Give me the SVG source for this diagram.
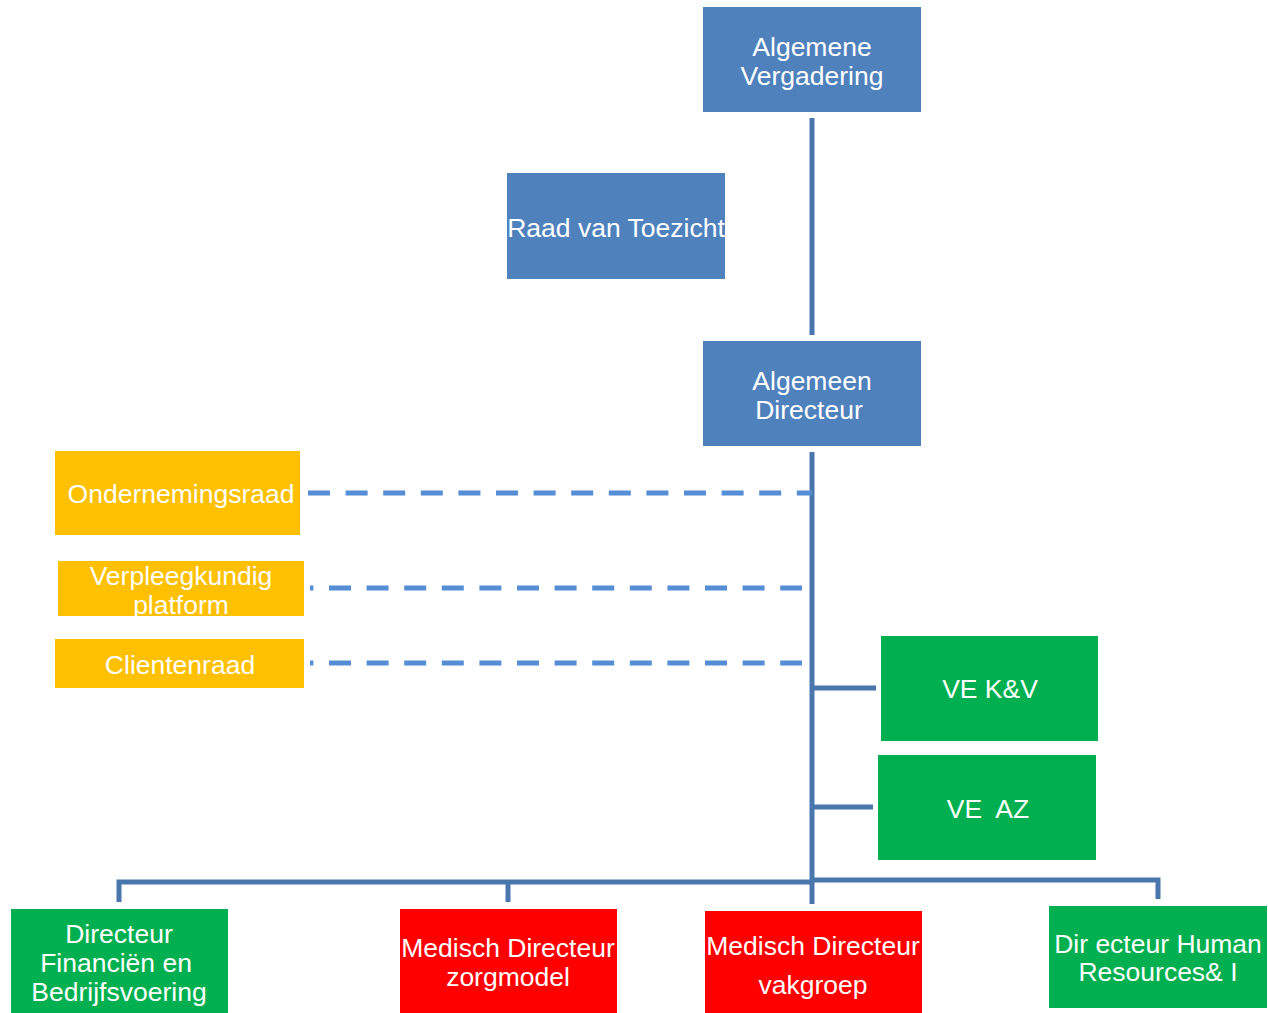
<svg xmlns="http://www.w3.org/2000/svg" width="1268" height="1013" viewBox="0 0 1268 1013">
<style>
text{font-family:"Liberation Sans",Arial,sans-serif;font-size:26.5px;fill:#fff;text-anchor:middle}
.blue{fill:#4F81BD}
.yel{fill:#FFC000}
.grn{fill:#00B050}
.red{fill:#FF0000}
.ln{stroke:#4A76AE;stroke-width:5;fill:none}
.dash{stroke:#558ED5;stroke-width:5;fill:none;stroke-dasharray:22 15.6}
</style>
<rect width="1268" height="1013" fill="#fff"/>
<g id="connectors">
<line class="ln" x1="812" y1="118" x2="812" y2="335"/>
<line class="ln" x1="812" y1="452" x2="812" y2="904"/>
<line class="dash" x1="308" y1="493" x2="812" y2="493"/>
<line class="dash" x1="310" y1="588" x2="802" y2="588" stroke-dashoffset="18.6"/>
<line class="dash" x1="310" y1="663" x2="802" y2="663" stroke-dashoffset="18.6"/>
<line class="ln" x1="812" y1="688" x2="876" y2="688"/>
<line class="ln" x1="812" y1="807" x2="873" y2="807"/>
<polyline class="ln" points="119,902 119,882 812,882"/>
<line class="ln" x1="508" y1="882" x2="508" y2="902"/>
<polyline class="ln" points="812,880 1158,880 1158,899"/>
</g>
<g id="n-av"><rect class="blue" x="703" y="7" width="218" height="105"/><text x="812" y="56">Algemene</text><text x="812" y="85">Vergadering</text></g>
<g id="n-rvt"><rect class="blue" x="507" y="173" width="218" height="106"/><text x="616" y="237">Raad van Toezicht</text></g>
<g id="n-ad"><rect class="blue" x="703" y="341" width="218" height="105"/><text x="812" y="390">Algemeen</text><text x="809" y="419">Directeur</text></g>
<g id="n-or"><rect class="yel" x="55" y="451" width="245" height="84"/><text x="181" y="503">Ondernemingsraad</text></g>
<g id="n-vp"><svg x="58" y="561" width="246" height="55" overflow="hidden"><rect class="yel" width="246" height="55"/><text x="123" y="24">Verpleegkundig</text><text x="123" y="53">platform</text></svg></g>
<g id="n-cr"><rect class="yel" x="55" y="639" width="249" height="49"/><text x="180" y="674">Clientenraad</text></g>
<g id="n-kv"><rect class="grn" x="881" y="636" width="217" height="105"/><text x="990" y="698">VE K&amp;V</text></g>
<g id="n-az"><rect class="grn" x="878" y="755" width="218" height="105"/><text x="988" y="818" xml:space="preserve">VE  AZ</text></g>
<g id="n-fin"><rect class="grn" x="11" y="909" width="217" height="104"/><text x="119" y="943">Directeur</text><text x="116" y="972">Financiën en</text><text x="119" y="1001">Bedrijfsvoering</text></g>
<g id="n-mdz"><rect class="red" x="400" y="909" width="217" height="104"/><text x="508" y="957">Medisch Directeur</text><text x="508" y="986">zorgmodel</text></g>
<g id="n-mdv"><rect class="red" x="705" y="911" width="217" height="102"/><text x="813" y="955">Medisch Directeur</text><text x="813" y="994">vakgroep</text></g>
<g id="n-hr"><rect class="grn" x="1049" y="906" width="218" height="102"/><text x="1158" y="953">Dir ecteur Human</text><text x="1158" y="981">Resources&amp; I</text></g>
</svg>
